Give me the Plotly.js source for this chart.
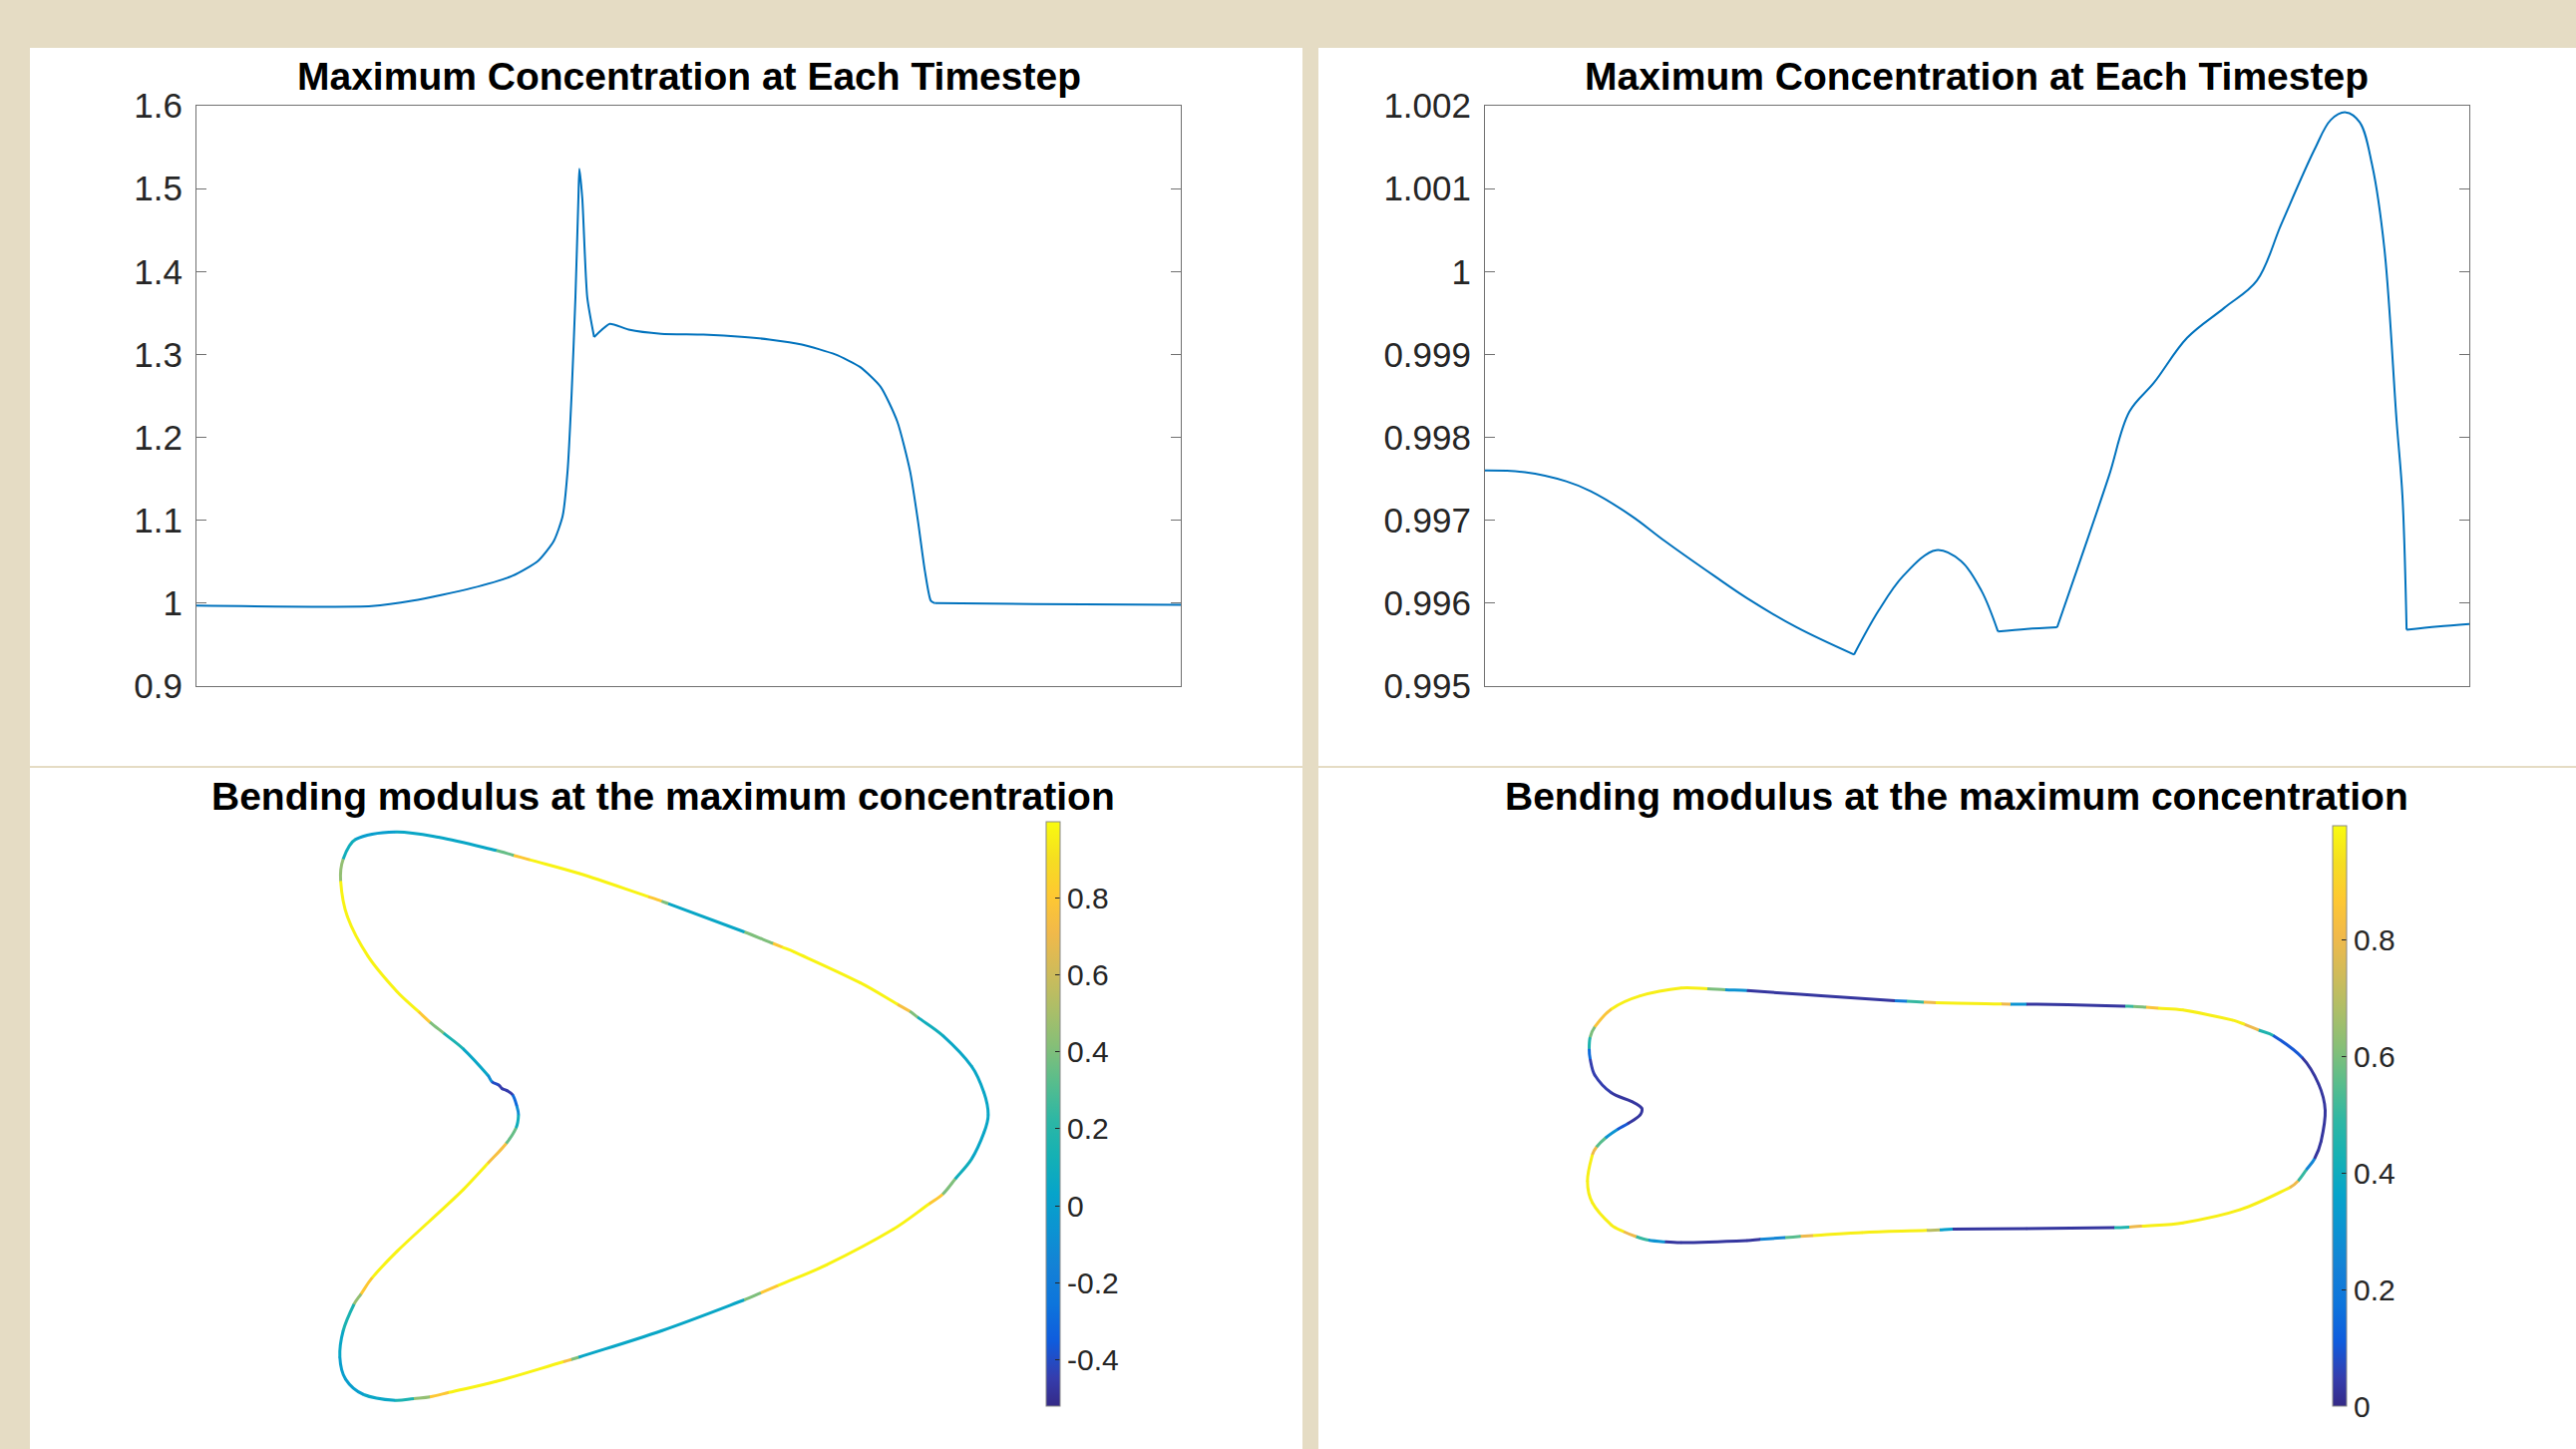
<!DOCTYPE html>
<html>
<head>
<meta charset="utf-8">
<script src="https://cdn.plot.ly/plotly-3.0.1.min.js"></script>
<style>
html,body{margin:0;padding:0;background:#E5DCC4;}
#chart{width:2583px;height:1453px;}
</style>
</head>
<body>
<div id="chart"></div>
<script>
// ---------------- DATA ----------------
// Top-left: maximum concentration per timestep (run A)
const timeA = [0, 178, 220, 279, 321, 347, 363, 372, 377, 381, 385, 388, 389, 392, 397, 404, 412, 420, 439, 472, 515, 557, 582, 615, 649, 674, 695, 712, 725, 733, 740, 746, 750, 851, 1000];
const maxConcA = [0.997, 0.9965, 1.003, 1.018, 1.033, 1.051, 1.075, 1.105, 1.159, 1.249, 1.369, 1.488, 1.524, 1.488, 1.369, 1.321, 1.330, 1.337, 1.330, 1.325, 1.324, 1.321, 1.318, 1.312, 1.300, 1.285, 1.261, 1.219, 1.159, 1.099, 1.039, 1.003, 1.000, 0.999, 0.998];
const cornersA = [15, 32];   // indices where the curve has a kink

// Top-right: maximum concentration per timestep (run B)
const timeB = [0, 40.6, 82.5, 107.5, 149.2, 182.7, 232.8, 266.3, 316.4, 374.9, 399.9, 425.0, 458.4, 483.5, 504.4, 521.1, 550.3, 581.3, 604.6, 633.8, 654.7, 679.7, 713.3, 750.9, 784.2, 809.3, 842.7, 859.4, 874.5, 888.7, 901.2, 913.7, 926.2, 932.1, 936.3, 968.0, 1000];
const maxConcB = [0.99760, 0.99758, 0.99747, 0.99735, 0.99705, 0.99675, 0.99633, 0.99606, 0.99571, 0.99538, 0.99591, 0.99633, 0.99664, 0.99651, 0.99615, 0.99566, 0.99569, 0.99571, 0.99651, 0.99753, 0.99831, 0.99866, 0.99920, 0.99956, 0.99989, 1.00058, 1.00147, 1.00183, 1.00192, 1.00180, 1.00129, 1.00028, 0.99819, 0.99729, 0.99568, 0.99572, 0.99575];
const cornersB = [9, 15, 17, 34];

const yTickValsA = [0.9, 1.0, 1.1, 1.2, 1.3, 1.4, 1.5, 1.6];
const yTickTextA = ['0.9', '1', '1.1', '1.2', '1.3', '1.4', '1.5', '1.6'];
const yTickValsB = [0.995, 0.996, 0.997, 0.998, 0.999, 1.0, 1.001, 1.002];
const yTickTextB = ['0.995', '0.996', '0.997', '0.998', '0.999', '1', '1.001', '1.002'];

// Bottom-left: membrane outline (A) and bending modulus along it
const shapeAx = [396.4, 356.6, 344.1, 341.6, 348.3, 369.0, 398.0, 420.0, 431.2, 445.0, 464.3, 489.2, 493.4, 500.0, 503.3, 508.3, 514.1, 518.2, 519.9, 517.4, 507.5, 489.2, 464.3, 431.2, 398.0, 373.1, 362.0, 354.9, 344.1, 340.8, 346.6, 364.8, 396.4, 415.0, 431.2, 450.0, 497.5, 565.0, 573.0, 580.4, 663.3, 746.3, 763.0, 780.0, 829.2, 895.5, 932.0, 945.3, 958.0, 974.3, 986.7, 990.9, 986.7, 974.3, 945.3, 920.0, 912.1, 900.0, 862.4, 796.0, 784.0, 775.0, 746.3, 670.0, 663.3, 650.0, 580.4, 531.0, 515.0, 497.5, 439.5];
const shapeAy = [834.2, 841.7, 861.6, 883.7, 919.1, 958.8, 994.2, 1014.7, 1025.1, 1036.1, 1051.6, 1078.2, 1084.8, 1087.9, 1091.4, 1093.6, 1098.0, 1109.1, 1117.9, 1131.2, 1146.7, 1166.5, 1193.1, 1224.0, 1254.9, 1281.4, 1297.6, 1308.0, 1334.5, 1361.0, 1383.1, 1398.5, 1404.3, 1402.4, 1400.7, 1396.3, 1385.3, 1365.5, 1363.2, 1361.0, 1334.5, 1303.5, 1296.4, 1289.2, 1268.2, 1232.8, 1207.0, 1197.5, 1182.0, 1162.1, 1135.6, 1117.9, 1095.8, 1069.3, 1038.4, 1019.9, 1014.1, 1007.1, 985.4, 954.4, 949.6, 946.0, 934.5, 906.1, 903.6, 899.1, 875.8, 862.1, 857.7, 852.8, 839.5];
const bendA = [0.0, 0.1, 0.45, 0.97, 0.97, 0.97, 0.97, 0.8, 0.4, 0.15, 0.05, -0.1, -0.4, -0.45, -0.45, -0.45, -0.3, -0.1, 0.1, 0.35, 0.75, 0.97, 0.97, 0.97, 0.97, 0.8, 0.45, 0.15, 0.05, 0.0, 0.0, 0.05, 0.15, 0.45, 0.8, 0.97, 0.97, 0.75, 0.4, 0.05, 0.05, 0.4, 0.8, 0.97, 0.97, 0.97, 0.8, 0.4, 0.1, 0.05, 0.05, 0.05, 0.05, 0.05, 0.1, 0.4, 0.75, 0.97, 0.97, 0.97, 0.8, 0.4, 0.05, 0.4, 0.8, 0.97, 0.97, 0.8, 0.35, 0.05, 0.05];
const cbTickValsA = [-0.4, -0.2, 0, 0.2, 0.4, 0.6, 0.8];
const cbTickTextA = ['-0.4', '-0.2', '0', '0.2', '0.4', '0.6', '0.8'];
const bendRangeA = [-0.52, 0.997];

// Bottom-right: membrane outline (B) and bending modulus along it
const shapeBx = [1644.6, 1685.8, 1712.0, 1730.0, 1751.8, 1826.0, 1900.0, 1912.0, 1929.0, 1941.0, 1990.9, 2007.0, 2016.0, 2032.0, 2073.4, 2131.0, 2139.3, 2152.0, 2164.0, 2188.8, 2238.3, 2251.0, 2265.0, 2279.5, 2308.4, 2324.9, 2331.5, 2327.4, 2320.8, 2312.5, 2304.3, 2296.0, 2246.5, 2188.8, 2147.6, 2135.0, 2120.0, 2032.2, 1958.0, 1945.0, 1932.0, 1867.2, 1826.0, 1817.7, 1805.4, 1790.0, 1765.0, 1751.8, 1685.8, 1669.3, 1652.8, 1640.5, 1628.0, 1615.7, 1596.8, 1591.8, 1596.8, 1601.0, 1610.0, 1622.0, 1632.2, 1644.6, 1646.2, 1636.3, 1615.7, 1599.2, 1594.5, 1593.5, 1594.5, 1599.2, 1615.7];
const shapeBy = [998.6, 990.7, 991.5, 992.5, 993.3, 998.6, 1003.4, 1004.1, 1005.0, 1005.5, 1006.6, 1006.8, 1006.9, 1007.0, 1007.5, 1009.0, 1009.2, 1010.1, 1011.0, 1012.8, 1022.9, 1027.3, 1033.0, 1038.4, 1060.5, 1087.0, 1113.5, 1144.4, 1162.0, 1173.2, 1184.2, 1190.8, 1212.9, 1226.2, 1229.5, 1230.4, 1231.0, 1231.9, 1232.6, 1233.2, 1233.8, 1235.9, 1238.4, 1238.9, 1239.8, 1241.0, 1242.8, 1243.9, 1246.1, 1245.3, 1243.5, 1240.0, 1235.0, 1228.4, 1206.3, 1184.2, 1157.7, 1150.0, 1141.0, 1132.5, 1126.8, 1117.9, 1111.3, 1104.7, 1095.8, 1078.2, 1062.0, 1051.6, 1040.0, 1029.6, 1011.9];
const bendB = [0.97, 0.97, 0.6, 0.3, 0.03, 0.03, 0.2, 0.5, 0.8, 0.97, 0.97, 0.8, 0.3, 0.03, 0.03, 0.5, 0.6, 0.85, 0.97, 0.97, 0.97, 0.8, 0.45, 0.1, 0.03, 0.03, 0.03, 0.03, 0.25, 0.5, 0.8, 0.97, 0.97, 0.97, 0.8, 0.45, 0.03, 0.03, 0.35, 0.7, 0.97, 0.97, 0.97, 0.8, 0.55, 0.25, 0.03, 0.03, 0.03, 0.3, 0.5, 0.8, 0.97, 0.97, 0.97, 0.97, 0.8, 0.55, 0.3, 0.1, 0.03, 0.03, 0.03, 0.03, 0.05, 0.05, 0.15, 0.45, 0.6, 0.85, 0.97];
const cbTickValsB = [0, 0.2, 0.4, 0.6, 0.8];
const cbTickTextB = ['0', '0.2', '0.4', '0.6', '0.8'];
const bendRangeB = [0, 0.995];

// ---------------- STYLE ----------------
const W = 2583, H = 1453;
const FONT = 'Liberation Sans, Arial, Helvetica, sans-serif';
const BEIGE = '#E5DCC4';
const AXCOL = '#707070';
const TXT = '#262626';
const LINEBLUE = '#0072BD';
const parula = [[0,'#352a87'],[0.048,'#353dad'],[0.111,'#0f5cdd'],[0.175,'#0d75dc'],[0.238,'#1481d6'],[0.302,'#0c93d2'],[0.365,'#06a4ca'],[0.429,'#15b1b4'],[0.492,'#2eb7a4'],[0.556,'#59bd8c'],[0.619,'#87bf77'],[0.683,'#aebe67'],[0.746,'#d1bb59'],[0.810,'#f1b94a'],[0.873,'#fec832'],[0.937,'#f5de21'],[1,'#f9fb0e']];

const px = x => x / W;
const py = y => 1 - y / H;

function hexToRgb(h){ return [parseInt(h.substr(1,2),16), parseInt(h.substr(3,2),16), parseInt(h.substr(5,2),16)]; }
function colorOf(v, cmin, cmax){
  let f = (v - cmin) / (cmax - cmin); f = Math.max(0, Math.min(1, f));
  for (let i = 1; i < parula.length; i++){
    if (f <= parula[i][0]){
      const a = parula[i-1], b = parula[i];
      const t = (f - a[0]) / (b[0] - a[0]);
      const ca = hexToRgb(a[1]), cb = hexToRgb(b[1]);
      return 'rgb(' + ca.map((c,k)=>Math.round(c + (cb[k]-c)*t)).join(',') + ')';
    }
  }
  return parula[parula.length-1][1];
}

// Closed outline drawn as smooth path pieces (one per colour run) in the subplot's data coordinates
function outlineShapes(xs, ys, vs, range, xref, yref, width){
  const n = xs.length;
  const P = i => [xs[(i+n)%n], ys[(i+n)%n]];
  const dist = (a,b) => Math.hypot(a[0]-b[0], a[1]-b[1]);
  const T = [];
  for (let i = 0; i < n; i++){
    const a = P(i-1), b = P(i), c = P(i+1);
    const s = dist(a,b) + dist(b,c);
    T.push([(c[0]-a[0])/s, (c[1]-a[1])/s]);
  }
  const f = v => v.toFixed(2);
  const out = [];
  let i = 0;
  while (i < n){
    let j = i;
    while (j + 1 < n && vs[j+1] === vs[i]) j++;
    let d = 'M ' + f(xs[i]) + ',' + f(ys[i]);
    for (let k = i; k <= j; k++){
      const a = P(k), b = P(k+1), L = dist(a,b)/3, ta = T[k], tb = T[(k+1)%n];
      d += ' C ' + f(a[0]+ta[0]*L) + ',' + f(a[1]+ta[1]*L) + ' ' + f(b[0]-tb[0]*L) + ',' + f(b[1]-tb[1]*L) + ' ' + f(b[0]) + ',' + f(b[1]);
    }
    out.push({type:'path', xref:xref, yref:yref, path:d, layer:'above',
      line:{color: colorOf(vs[i], range[0], range[1]), width: width}});
    i = j + 1;
  }
  return out;
}

function cbar(x0, yTop, yBot, vals, texts){
  return {x: px(x0), xanchor:'left', xref:'paper', y: py((yTop+yBot)/2), yanchor:'middle', yref:'paper',
    len: yBot - yTop, lenmode:'pixels', thickness: 14, thicknessmode:'pixels', xpad:0, ypad:0,
    outlinewidth:1, outlinecolor:'#8a8a8a', ticks:'inside', ticklen:5, tickcolor:TXT,
    tickvals: vals, ticktext: texts, tickfont:{family:FONT, size:30, color:TXT}};
}

function linePieces(xs, ys, corners, xa, ya, smoothing){
  const cuts = [0].concat(corners, [xs.length-1]);
  const out = [];
  for (let k = 0; k < cuts.length-1; k++){
    out.push({type:'scatter', mode:'lines', x: xs.slice(cuts[k], cuts[k+1]+1), y: ys.slice(cuts[k], cuts[k+1]+1),
      xaxis:xa, yaxis:ya, showlegend:false, hoverinfo:'skip',
      line:{color:LINEBLUE, width:2, shape:'spline', smoothing:smoothing}});
  }
  return out;
}

const traces = [];
linePieces(timeA, maxConcA, cornersA, 'x', 'y', 0.6).forEach(t=>traces.push(t));
linePieces(timeB, maxConcB, cornersB, 'x2', 'y2', 1.0).forEach(t=>traces.push(t));
traces.push({type:'scatter', mode:'markers', x: shapeAx, y: shapeAy, xaxis:'x3', yaxis:'y3', hoverinfo:'skip', showlegend:false,
  marker:{size:2.5, color: bendA, colorscale: parula, cmin: bendRangeA[0], cmax: bendRangeA[1], showscale:true,
  colorbar: cbar(1049, 824, 1410, cbTickValsA, cbTickTextA)}});
traces.push({type:'scatter', mode:'markers', x: shapeBx, y: shapeBy, xaxis:'x4', yaxis:'y4', hoverinfo:'skip', showlegend:false,
  marker:{size:2.5, color: bendB, colorscale: parula, cmin: bendRangeB[0], cmax: bendRangeB[1], showscale:true,
  colorbar: cbar(2339, 828, 1410, cbTickValsB, cbTickTextB)}});

function topX(d0, d1, anchor){
  return {domain:[px(d0), px(d1)], range:[0,1000], anchor: anchor, showline:true, mirror:true, linecolor:AXCOL, linewidth:1,
    ticks:'', showticklabels:false, showgrid:false, zeroline:false, fixedrange:true};
}
function topY(range, vals, texts, anchor){
  return {domain:[py(688), py(106)], range: range, anchor: anchor, showline:true, mirror:'ticks', linecolor:AXCOL, linewidth:1,
    ticks:'inside', ticklen:10, tickcolor:AXCOL, tickwidth:1, tickvals: vals, ticktext: texts,
    tickfont:{family:FONT, size:35, color:TXT}, ticklabelstandoff: 6, showgrid:false, zeroline:false, fixedrange:true};
}
function hidden(d0, d1, r, anchor){
  return {domain:[d0, d1], range:r, anchor: anchor, visible:false, showgrid:false, zeroline:false, fixedrange:true};
}

const panelShapes = [
  {type:'rect', xref:'paper', yref:'paper', x0:px(30), x1:px(1306), y0:py(768), y1:py(48), fillcolor:'#ffffff', line:{width:0}, layer:'below'},
  {type:'rect', xref:'paper', yref:'paper', x0:px(1322), x1:1, y0:py(768), y1:py(48), fillcolor:'#ffffff', line:{width:0}, layer:'below'},
  {type:'rect', xref:'paper', yref:'paper', x0:px(30), x1:px(1306), y0:0, y1:py(770), fillcolor:'#ffffff', line:{width:0}, layer:'below'},
  {type:'rect', xref:'paper', yref:'paper', x0:px(1322), x1:1, y0:0, y1:py(770), fillcolor:'#ffffff', line:{width:0}, layer:'below'}
];
const outlineA = outlineShapes(shapeAx, shapeAy, bendA, bendRangeA, 'x3', 'y3', 3);
const outlineB = outlineShapes(shapeBx, shapeBy, bendB, bendRangeB, 'x4', 'y4', 3);

const titleFont = {family:FONT, size:39, color:'#000000'};
const layout = {
  width: W, height: H, autosize:false,
  margin:{l:0, r:0, t:0, b:0, pad:0},
  paper_bgcolor: BEIGE, plot_bgcolor:'rgba(255,255,255,0)',
  showlegend:false,
  xaxis: topX(197, 1184, 'y'),
  yaxis: topY([0.9, 1.6], yTickValsA, yTickTextA, 'x'),
  xaxis2: topX(1489, 2476, 'y2'),
  yaxis2: topY([0.995, 1.002], yTickValsB, yTickTextB, 'x2'),
  xaxis3: hidden(px(200), px(1040), [200, 1040], 'y3'),
  yaxis3: hidden(py(1440), py(800), [1440, 800], 'x3'),
  xaxis4: hidden(px(1500), px(2400), [1500, 2400], 'y4'),
  yaxis4: hidden(py(1440), py(800), [1440, 800], 'x4'),
  shapes: panelShapes.concat(outlineA, outlineB),
  annotations: [
    {text:'<b>Maximum Concentration at Each Timestep</b>', x:px(690.5), y:py(76), xref:'paper', yref:'paper', xanchor:'center', yanchor:'middle', showarrow:false, font:titleFont},
    {text:'<b>Maximum Concentration at Each Timestep</b>', x:px(1982.5), y:py(76), xref:'paper', yref:'paper', xanchor:'center', yanchor:'middle', showarrow:false, font:titleFont},
    {text:'<b>Bending modulus at the maximum concentration</b>', x:px(665.5), y:py(798), xref:'paper', yref:'paper', xanchor:'center', yanchor:'middle', showarrow:false, font:titleFont},
    {text:'<b>Bending modulus at the maximum concentration</b>', x:px(1962), y:py(798), xref:'paper', yref:'paper', xanchor:'center', yanchor:'middle', showarrow:false, font:titleFont}
  ]
};

Plotly.newPlot('chart', traces, layout, {staticPlot:true, displayModeBar:false});
</script>
</body>
</html>
